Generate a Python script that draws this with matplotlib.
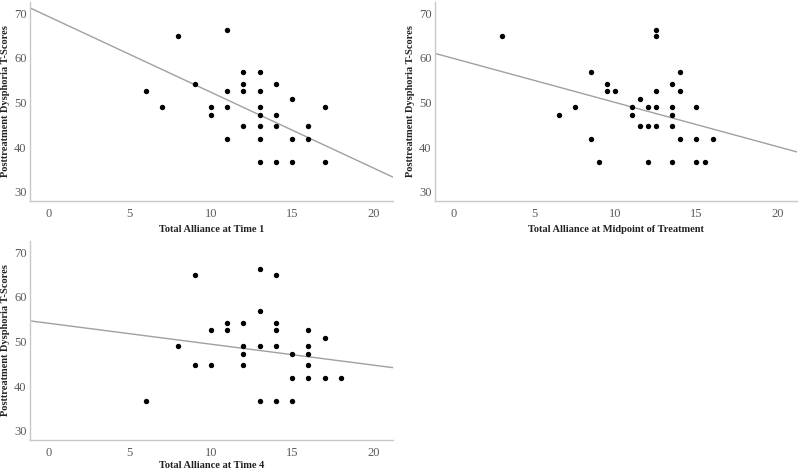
import numpy as np
import matplotlib
matplotlib.use("Agg")
import matplotlib.pyplot as plt

plt.rcParams['font.family'] = ['Liberation Serif', 'DejaVu Serif']

# Panel 1: Total Alliance at Time 1
t1_x = [6, 7, 8, 9, 10, 10, 11, 11, 11, 11, 12, 12, 12, 12,
        13, 13, 13, 13, 13, 13, 13, 14, 14, 14, 14, 15, 15, 15, 16, 16, 17, 17]
t1_y = [52.6, 49.0, 64.9, 54.2, 49.0, 47.1, 66.3, 52.6, 49.0, 41.9, 56.9, 54.2, 52.6, 44.8,
        56.9, 52.6, 49.0, 47.1, 44.8, 41.9, 36.7, 54.2, 47.1, 44.8, 36.7, 50.9, 41.9, 36.7,
        44.8, 41.9, 49.0, 36.7]

# Panel 2: Total Alliance at Midpoint of Treatment
mid_x = [3, 6.5, 7.5, 8.5, 8.5, 9, 9.5, 9.5, 10, 11, 11, 11.5, 11.5, 12, 12, 12,
         12.5, 12.5, 12.5, 12.5, 12.5, 13.5, 13.5, 13.5, 13.5, 13.5, 14, 14, 14,
         15, 15, 15, 15.5, 16]
mid_y = [64.9, 47.1, 49.0, 56.9, 41.9, 36.7, 54.2, 52.6, 52.6, 49.0, 47.1, 50.9, 44.8,
         49.0, 44.8, 36.7, 66.3, 64.9, 52.6, 49.0, 44.8, 54.2, 49.0, 47.1, 44.8, 36.7,
         56.9, 52.6, 41.9, 49.0, 41.9, 36.7, 36.7, 41.9]

# Panel 3: Total Alliance at Time 4
t4_x = [6, 8, 9, 9, 10, 10, 11, 11, 12, 12, 12, 12, 13, 13, 13, 13,
        14, 14, 14, 14, 14, 15, 15, 15, 16, 16, 16, 16, 16, 17, 17, 18]
t4_y = [36.7, 49.0, 64.9, 44.8, 52.6, 44.8, 54.2, 52.6, 54.2, 49.0, 47.1, 44.8,
        66.3, 56.9, 49.0, 36.7, 64.9, 54.2, 52.6, 49.0, 36.7, 47.1, 41.9, 36.7,
        52.6, 49.0, 47.1, 44.8, 41.9, 50.9, 41.9, 41.9]

# fit lines as drawn (intercept, slope)
fits = [(69.3, -1.70), (59.9, -0.99), (54.1, -0.47)]
xlabels = ["Total Alliance at Time 1",
           "Total Alliance at Midpoint of Treatment",
           "Total Alliance at Time 4"]
ylabel = "Posttreatment Dysphoria T-Scores"

W, H = 800, 471
fig = plt.figure(figsize=(W / 100, H / 100), dpi=100)

# axes boxes in pixels: left, top, right, bottom
boxes = [(30, 2.2, 393, 200.6), (435, 2.2, 797, 200.6), (30, 241.2, 393, 439.6)]
data = [(t1_x, t1_y), (mid_x, mid_y), (t4_x, t4_y)]
xpads = [4, 4, 2]

for (l, t, r, b), (xs, ys), (b0, b1), xl, xp in zip(boxes, data, fits, xlabels, xpads):
    ax = fig.add_axes([l / W, 1 - b / H, (r - l) / W, (b - t) / H])
    xlim = (-1.13, 21.2)
    ax.set_xlim(xlim)
    ax.set_ylim(28, 72.5)
    lx = np.array(xlim)
    ax.plot(lx, b0 + b1 * lx, color="#a0a0a0", lw=1.0, zorder=1)
    ax.scatter(xs, ys, s=15, color="black", zorder=2, linewidths=0)
    ax.set_xticks([0, 5, 10, 15, 20])
    ax.set_yticks([30, 40, 50, 60, 70])
    for side in ["top", "right"]:
        ax.spines[side].set_visible(False)
    for side in ["left", "bottom"]:
        ax.spines[side].set_color("#c8c8c8")
        ax.spines[side].set_linewidth(1.0)
    ax.tick_params(length=0, labelsize=9, colors="#5a5a5a", pad=2.5)
    ax.tick_params(axis="x", pad=5)
    ax.set_xlabel(xl, fontsize=7.5, fontweight="bold", color="#222222", labelpad=xp)
    ax.set_ylabel(ylabel, fontsize=7.5, fontweight="bold", color="#222222", labelpad=3)

fig.savefig("out.png", dpi=100)
